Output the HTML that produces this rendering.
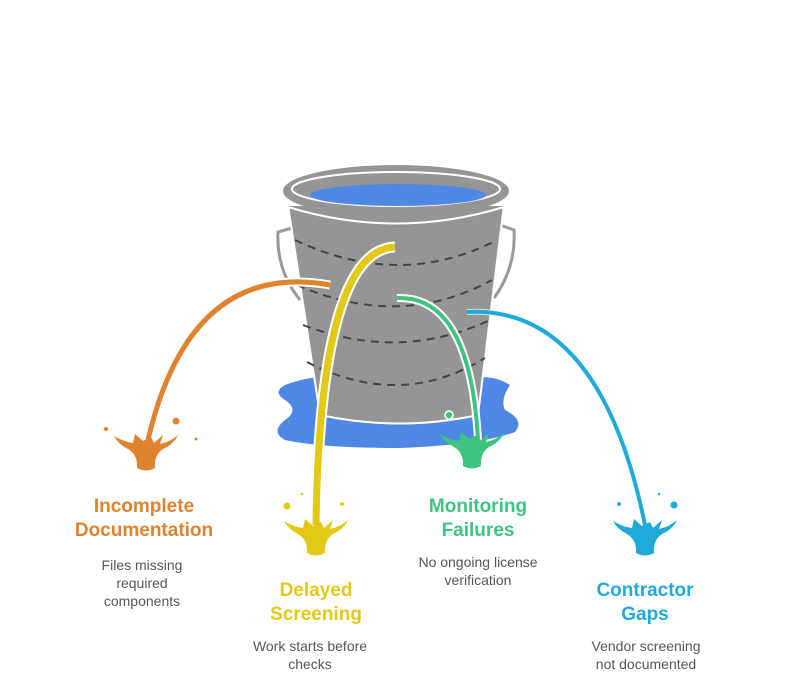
<!DOCTYPE html>
<html><head><meta charset="utf-8"><style>
body{margin:0;background:#fff;width:792px;height:697px;overflow:hidden}
svg{display:block}
text{font-family:"Liberation Sans",sans-serif}
.t{font-weight:bold;font-size:19px}
.d{font-size:14px;fill:#555}
</style></head><body>
<svg width="792" height="697" viewBox="0 0 792 697">
<defs>
<path id="sp" d="M-32,-34 Q-22,-28 -13,-27 L-11,-36 L-3,-29 L5,-33 L8,-27 L17,-35 L14,-26 Q24,-28 32,-35 Q28,-26 17,-21 Q8,-15 9,-2 Q0,3 -9,-2 Q-8,-15 -18,-21 Q-28,-26 -32,-34 Z"/>
</defs>
<!-- puddle -->
<path d="M285,385 Q320,372 340,380 L460,380 Q490,372 510,385 Q500,400 505,410 Q525,420 515,432 Q480,445 400,448 Q320,448 285,440 Q270,432 285,420 Q300,410 285,400 Q272,392 285,385Z" fill="#4e88e4"/>
<!-- handles -->
<path d="M292,228 L278,232 Q276,270 300,300" fill="none" stroke="#999" stroke-width="3"/>
<path d="M500,225 L514,230 Q516,268 494,298" fill="none" stroke="#999" stroke-width="3"/>
<!-- body -->
<path d="M288,205 L504,205 L478,415 Q400,432 320,415 Z" fill="#959595" stroke="#fff" stroke-width="2"/>
<g fill="none" stroke="#444" stroke-width="2" stroke-dasharray="8,6">
<path d="M295,240 Q400,290 497,240"/>
<path d="M297,285 Q400,330 492,280"/>
<path d="M303,325 Q400,362 490,320"/>
<path d="M307,362 Q400,410 485,358"/>
</g>
<!-- rim -->
<ellipse cx="396" cy="191" rx="113" ry="26" fill="#959595"/>
<ellipse cx="396" cy="189" rx="104" ry="17" fill="none" stroke="#fff" stroke-width="2"/>
<ellipse cx="398" cy="195" rx="88" ry="11" fill="#4e88e4"/>
<path d="M288,207 Q396,240 504,207" fill="none" stroke="#fff" stroke-width="2"/>
<!-- streams -->
<path d="M330,285 Q190,260 148,440" fill="none" stroke="#fff" stroke-width="9"/>
<path d="M330,285 Q190,260 148,440" fill="none" stroke="#e0832f" stroke-width="5"/>
<path d="M395,247 Q320,250 316,525" fill="none" stroke="#fff" stroke-width="11"/>
<path d="M395,247 Q320,250 316,525" fill="none" stroke="#e2c915" stroke-width="7"/>
<path d="M397,298 Q470,295 478,440" fill="none" stroke="#fff" stroke-width="8"/>
<path d="M397,298 Q470,295 478,440" fill="none" stroke="#3dc47e" stroke-width="4"/>
<circle cx="449" cy="415" r="4" fill="#3dc47e" stroke="#fff" stroke-width="1.5"/>
<path d="M467,312 Q600,305 645,525" fill="none" stroke="#fff" stroke-width="6" opacity=".7"/>
<path d="M467,312 Q600,305 645,525" fill="none" stroke="#1faad9" stroke-width="4"/>
<!-- splashes -->
<g fill="#e0832f"><use href="#sp" transform="translate(146,470)"/><circle cx="176" cy="421" r="3.5"/><circle cx="106" cy="429" r="2"/><circle cx="196" cy="439" r="1.5"/></g>
<g fill="#e2c915"><use href="#sp" transform="translate(316,555)"/><circle cx="287" cy="506" r="3.5"/><circle cx="342" cy="504" r="2"/><circle cx="302" cy="494" r="1.3"/></g>
<g fill="#3dc47e"><use href="#sp" transform="translate(472,468)"/></g>
<g fill="#1faad9"><use href="#sp" transform="translate(645,555)"/><circle cx="674" cy="505" r="3.5"/><circle cx="619" cy="504" r="2"/><circle cx="659" cy="494" r="1.3"/></g>
<!-- labels -->
<g text-anchor="middle">
<text class="t" x="144" y="512" fill="#e0832f">Incomplete</text>
<text class="t" x="144" y="536" fill="#e0832f">Documentation</text>
<text class="d" x="142" y="570">Files missing</text>
<text class="d" x="142" y="588">required</text>
<text class="d" x="142" y="606">components</text>
<text class="t" x="316" y="596" fill="#e2c915">Delayed</text>
<text class="t" x="316" y="620" fill="#e2c915">Screening</text>
<text class="d" x="310" y="651">Work starts before</text>
<text class="d" x="310" y="669">checks</text>
<text class="t" x="478" y="512" fill="#3dc47e">Monitoring</text>
<text class="t" x="478" y="536" fill="#3dc47e">Failures</text>
<text class="d" x="478" y="567">No ongoing license</text>
<text class="d" x="478" y="585">verification</text>
<text class="t" x="645" y="596" fill="#1faad9">Contractor</text>
<text class="t" x="645" y="620" fill="#1faad9">Gaps</text>
<text class="d" x="646" y="651">Vendor screening</text>
<text class="d" x="646" y="669">not documented</text>
</g>
</svg>
</body></html>
